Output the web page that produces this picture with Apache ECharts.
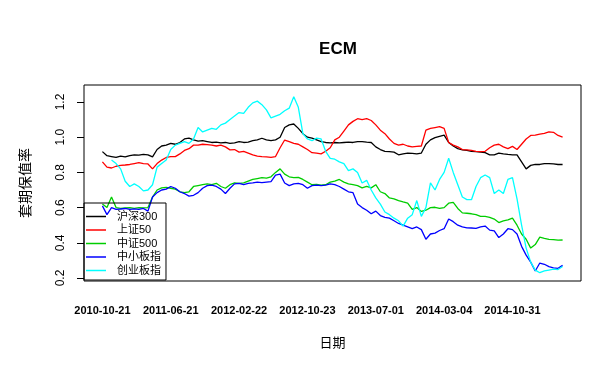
<!DOCTYPE html>
<html>
<head>
<meta charset="utf-8">
<script src="https://cdn.jsdelivr.net/npm/echarts@6/dist/echarts.min.js"></script>
<style>html,body{margin:0;padding:0;background:#fff;}#c{width:600px;height:379px;}</style>
</head>
<body>
<div id="c"></div>
<script>
// Tick labels on the x axis (trading-day index positions, sampled)
var tickIdx = [0, 15, 30, 45, 60, 75, 90];
var tickLabels = ["2010-10-21", "2011-06-21", "2012-02-22", "2012-10-23", "2013-07-01", "2014-03-04", "2014-10-31"];
var yTicks = [0.2, 0.4, 0.6, 0.8, 1.0, 1.2];
var seriesNames = ["沪深300", "上证50", "中证500", "中小板指", "创业板指"];
var seriesColors = ["#000000", "#ff0000", "#00cd00", "#0000ff", "#00ffff"];

var hs300 = [0.918,0.895,0.89,0.885,0.892,0.888,0.895,0.9,0.898,0.902,
0.9,0.888,0.93,0.95,0.955,0.965,0.96,0.97,0.99,0.995,
0.985,0.978,0.98,0.975,0.97,0.972,0.968,0.97,0.965,0.968,
0.975,0.97,0.972,0.98,0.985,0.994,0.985,0.98,0.985,1.0,
1.055,1.07,1.075,1.05,1.02,1.0,0.995,0.985,0.975,0.97,
0.968,0.97,0.968,0.97,0.972,0.97,0.975,0.975,0.972,0.97,
0.945,0.93,0.92,0.918,0.915,0.9,0.905,0.91,0.908,0.905,
0.91,0.96,0.985,0.998,1.005,1.012,0.97,0.95,0.935,0.928,
0.925,0.92,0.918,0.915,0.912,0.9,0.9,0.91,0.905,0.902,
0.9,0.9,0.86,0.82,0.84,0.845,0.845,0.85,0.85,0.848,
0.845,0.845];

var sz50 = [0.86,0.83,0.825,0.835,0.84,0.842,0.845,0.85,0.855,0.85,
0.848,0.82,0.85,0.87,0.885,0.89,0.89,0.905,0.925,0.935,
0.955,0.955,0.96,0.958,0.955,0.95,0.955,0.945,0.928,0.93,
0.915,0.92,0.91,0.9,0.893,0.89,0.888,0.885,0.89,0.94,
0.984,0.975,0.965,0.96,0.945,0.93,0.912,0.91,0.905,0.92,
0.94,0.985,1.0,1.035,1.07,1.09,1.105,1.1,1.105,1.095,
1.07,1.04,1.02,0.99,0.965,0.955,0.96,0.95,0.945,0.948,
0.95,1.04,1.05,1.055,1.06,1.05,0.97,0.955,0.945,0.93,
0.928,0.925,0.92,0.918,0.92,0.94,0.955,0.96,0.945,0.935,
0.948,0.93,0.96,0.99,1.01,1.012,1.018,1.022,1.03,1.028,
1.01,1.0];

var zz500 = [0.62,0.6,0.66,0.6,0.595,0.598,0.6,0.596,0.6,0.598,
0.6,0.66,0.7,0.712,0.715,0.71,0.705,0.69,0.685,0.69,
0.72,0.725,0.73,0.735,0.73,0.738,0.72,0.71,0.73,0.74,
0.738,0.74,0.75,0.76,0.765,0.77,0.768,0.775,0.8,0.82,
0.79,0.775,0.77,0.772,0.76,0.745,0.73,0.732,0.728,0.73,
0.745,0.75,0.76,0.745,0.735,0.73,0.725,0.712,0.72,0.712,
0.73,0.69,0.68,0.655,0.65,0.64,0.632,0.625,0.59,0.6,
0.578,0.585,0.6,0.602,0.595,0.6,0.625,0.63,0.595,0.57,
0.568,0.565,0.56,0.55,0.55,0.545,0.535,0.515,0.525,0.53,
0.54,0.5,0.45,0.42,0.37,0.39,0.432,0.425,0.42,0.418,
0.415,0.416];

var zxb = [0.61,0.56,0.6,0.59,0.592,0.595,0.59,0.593,0.59,0.595,
0.58,0.66,0.685,0.7,0.705,0.72,0.71,0.69,0.68,0.665,
0.67,0.685,0.71,0.725,0.728,0.72,0.705,0.68,0.71,0.735,
0.738,0.73,0.738,0.74,0.745,0.742,0.745,0.748,0.785,0.79,
0.74,0.725,0.735,0.738,0.73,0.71,0.725,0.728,0.725,0.728,
0.735,0.73,0.72,0.705,0.69,0.685,0.62,0.6,0.585,0.565,
0.58,0.555,0.545,0.54,0.525,0.51,0.5,0.49,0.48,0.49,
0.475,0.42,0.45,0.455,0.47,0.48,0.535,0.52,0.5,0.49,
0.485,0.484,0.482,0.49,0.495,0.472,0.468,0.43,0.45,0.48,
0.475,0.45,0.38,0.33,0.29,0.24,0.285,0.278,0.265,0.258,
0.255,0.272];

var cyb = [null,null,0.87,0.85,0.82,0.75,0.72,0.735,0.72,0.695,
0.7,0.73,0.83,0.85,0.87,0.93,0.955,0.965,0.975,0.965,
0.99,1.055,1.03,1.04,1.05,1.045,1.07,1.08,1.1,1.12,
1.14,1.135,1.17,1.195,1.205,1.185,1.155,1.11,1.12,1.13,
1.15,1.165,1.23,1.17,1.02,0.99,0.98,0.995,0.99,0.92,
0.88,0.875,0.86,0.85,0.81,0.82,0.8,0.74,0.755,0.7,
0.655,0.62,0.575,0.56,0.54,0.525,0.495,0.54,0.56,0.64,
0.55,0.6,0.74,0.7,0.76,0.8,0.88,0.8,0.73,0.66,
0.645,0.645,0.72,0.77,0.785,0.77,0.68,0.7,0.68,0.76,
0.77,0.65,0.5,0.37,0.29,0.245,0.23,0.24,0.245,0.25,
0.248,0.265];

var allValues = [hs300, sz50, zz500, zxb, cyb];
var nPts = hs300.length;
var ext = (nPts - 1) * 0.04;

function toPairs(arr) {
  var out = [];
  for (var i = 0; i < arr.length; i++) {
    if (arr[i] !== null) out.push([i, arr[i]]);
  }
  return out;
}

var FONT = "'Liberation Sans', 'Noto Sans CJK SC', sans-serif";
var chart = echarts.init(document.getElementById('c'), null, {renderer: 'canvas'});
var series = seriesNames.map(function (name, k) {
  return {
    name: name,
    type: 'line',
    data: toPairs(allValues[k]),
    symbol: 'none',
    lineStyle: {color: seriesColors[k], width: 1.3},
    itemStyle: {color: seriesColors[k]},
    connectNulls: false
  };
});

chart.setOption({
  backgroundColor: '#ffffff',
  animation: false,
  title: {
    text: 'ECM',
    left: 333, textAlign: 'center',
    top: 36,
    textStyle: {fontFamily: FONT, fontSize: 17, fontWeight: 'bold', color: '#000'}
  },
  grid: {
    left: 84, right: 19, top: 85, bottom: 98,
    show: true, borderColor: '#000', borderWidth: 1, backgroundColor: 'transparent'
  },
  legend: {
    data: seriesNames,
    orient: 'vertical',
    left: 84, top: 203,
    padding: [7, 5, 3, 2],
    itemGap: 0.5,
    itemWidth: 20, itemHeight: 1.5,
    icon: 'rect',
    borderColor: '#000', borderWidth: 1, borderRadius: 0,
    backgroundColor: 'transparent',
    textStyle: {fontFamily: FONT, fontSize: 11, color: '#000', lineHeight: 13, padding: [0, 0, 0, 6]}
  },
  xAxis: {
    type: 'value',
    min: -ext, max: nPts - 1 + ext,
    name: '日期', nameLocation: 'middle', nameGap: 56,
    nameTextStyle: {fontFamily: FONT, fontSize: 13, color: '#000'},
    axisLine: {show: false, onZero: false},
    axisTick: {show: false},
    splitLine: {show: false},
    axisLabel: {
      customValues: tickIdx,
      margin: 24,
      fontFamily: FONT, fontSize: 11, fontWeight: 'bold', color: '#000',
      formatter: function (v) {
        var k = tickIdx.indexOf(Math.round(v));
        return k >= 0 ? tickLabels[k] : '';
      }
    }
  },
  yAxis: {
    type: 'value',
    min: 0.183, max: 1.2966,
    name: '套期保值率', nameLocation: 'middle', nameGap: 51,
    nameTextStyle: {fontFamily: FONT, fontSize: 14, color: '#000'},
    axisLine: {show: false, onZero: false},
    axisTick: {show: true, customValues: yTicks, length: 7, lineStyle: {color: '#000'}},
    splitLine: {show: false},
    axisLabel: {
      customValues: yTicks,
      rotate: 90,
      margin: 17,
      fontFamily: FONT, fontSize: 12, color: '#000',
      formatter: function (v) { return v.toFixed(1); }
    }
  },
  series: series
});
</script>
</body>
</html>
